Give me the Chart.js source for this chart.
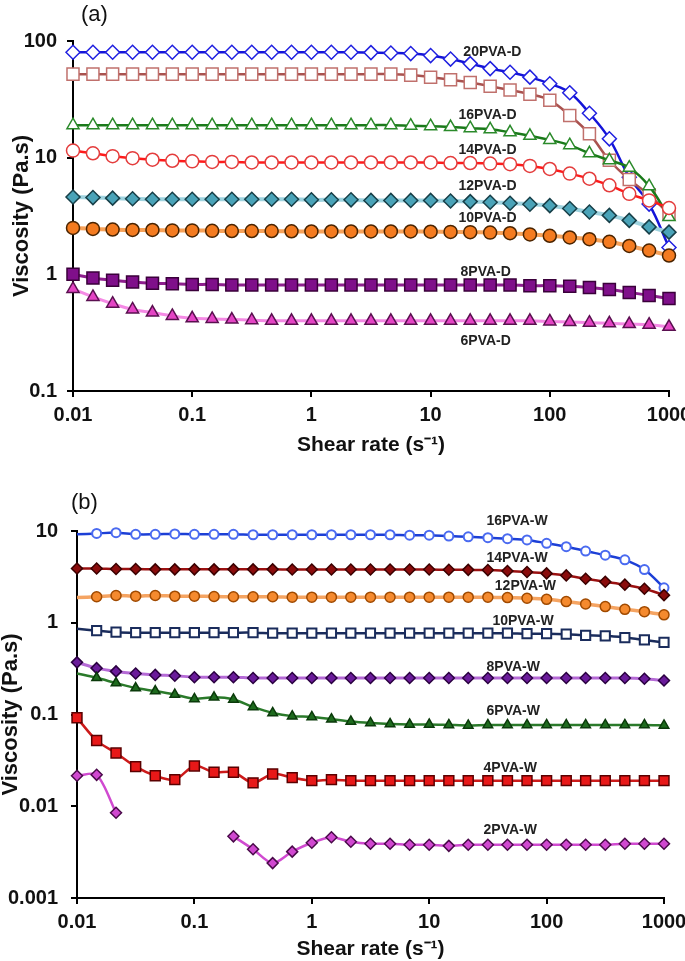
<!DOCTYPE html>
<html>
<head>
<meta charset="utf-8">
<script src="https://cdn.jsdelivr.net/npm/chart.js@4"></script>
<style>
body { margin: 0; background: #fff; }
#wrap { position: relative; width: 685px; height: 961px; font-family: "Liberation Sans", Arial, sans-serif; }
canvas { position: absolute; left: 0; }
.tag { position: absolute; font-size: 22px; color: #111; }
</style>
</head>
<body>
<div id="wrap">
  <canvas id="chartA" width="685" height="465" style="top:0"></canvas>
  <canvas id="chartB" width="685" height="496" style="top:465px"></canvas>
  <div class="tag" style="left:81px;top:1px">(a)</div>
  <div class="tag" style="left:71px;top:489px">(b)</div>
</div>
<script>
// shear rate, 6 points per decade
const shearRate = [0.01, 0.0147, 0.0215, 0.0316, 0.0464, 0.0681, 0.1, 0.147, 0.215, 0.316, 0.464, 0.681,
  1, 1.47, 2.15, 3.16, 4.64, 6.81, 10, 14.7, 21.5, 31.6, 46.4, 68.1, 100, 147, 215, 316, 464, 681, 1000];

const xTicks = [0.01, 0.1, 1, 10, 100, 1000];
const yTicksA = [0.1, 1, 10, 100];
const yTicksB = [0.001, 0.01, 0.1, 1, 10];

// (a) PVA-D
const pva20D = [80, 80, 80, 80, 80, 80, 80, 80, 80, 80, 80, 80, 80, 80, 80, 79.5, 79, 78, 75, 70, 64, 58, 54, 49, 43, 36, 24, 14.5, 6.8, 4, 1.7];
const pva18D = [52, 52, 52, 52, 52, 52, 52, 52, 52, 52, 52, 52, 52, 52, 52, 52, 52, 51, 49, 46.5, 44, 41, 38, 35, 31, 23, 16, 9.5, 6.5, 4.8, 3.3];
const pva16D = [19, 19, 19, 19, 19, 19, 19, 19, 19, 19, 19, 19, 19, 19, 19, 19, 19, 18.8, 18.6, 18.3, 17.9, 17.5, 16.5, 15.4, 14.2, 12.8, 10.9, 9.5, 8.2, 5.7, 3.1];
const pva14D = [11.5, 10.9, 10.3, 9.9, 9.6, 9.4, 9.3, 9.2, 9.2, 9.1, 9.1, 9.1, 9.1, 9.1, 9.1, 9.1, 9.1, 9.1, 9.1, 9.0, 9.0, 8.9, 8.8, 8.5, 8.0, 7.3, 6.6, 5.8, 4.9, 4.3, 3.7];
const pva12D = [4.6, 4.55, 4.5, 4.45, 4.4, 4.4, 4.4, 4.4, 4.4, 4.4, 4.4, 4.4, 4.35, 4.35, 4.35, 4.3, 4.3, 4.3, 4.3, 4.25, 4.2, 4.15, 4.07, 3.99, 3.88, 3.67, 3.42, 3.2, 2.9, 2.55, 2.3];
const pva10D = [2.5, 2.45, 2.42, 2.4, 2.4, 2.38, 2.38, 2.36, 2.35, 2.35, 2.35, 2.34, 2.33, 2.33, 2.33, 2.33, 2.33, 2.33, 2.32, 2.31, 2.3, 2.28, 2.25, 2.2, 2.14, 2.07, 2.0, 1.9, 1.75, 1.6, 1.45];
const pva8D = [1.0, 0.93, 0.89, 0.86, 0.84, 0.83, 0.82, 0.82, 0.81, 0.81, 0.81, 0.81, 0.81, 0.81, 0.81, 0.81, 0.81, 0.81, 0.81, 0.81, 0.81, 0.81, 0.81, 0.8, 0.8, 0.79, 0.77, 0.74, 0.7, 0.66, 0.62];
const pva6D = [0.75, 0.64, 0.56, 0.5, 0.47, 0.44, 0.42, 0.415, 0.41, 0.405, 0.4, 0.4, 0.4, 0.4, 0.4, 0.4, 0.4, 0.4, 0.4, 0.4, 0.4, 0.4, 0.4, 0.4, 0.395, 0.39, 0.385, 0.38, 0.375, 0.37, 0.355];

// (b) PVA-W
const pva16W = [9.2, 9.4, 9.6, 9.2, 9.2, 9.3, 9.2, 9.2, 9.2, 9.1, 9.1, 9.1, 9.1, 9.1, 9.1, 9.1, 9.1, 9.0, 9.0, 8.8, 8.65, 8.45, 8.25, 8.0, 7.35, 6.75, 6.05, 5.45, 4.85, 3.8, 2.4];
const pva14W = [3.9, 3.9, 3.85, 3.85, 3.82, 3.82, 3.82, 3.82, 3.82, 3.82, 3.82, 3.8, 3.8, 3.8, 3.8, 3.8, 3.8, 3.8, 3.8, 3.78, 3.77, 3.75, 3.67, 3.57, 3.45, 3.28, 3.02, 2.8, 2.6, 2.35, 2.0];
const pva12W = [1.88, 1.92, 1.98, 1.95, 1.98, 1.95, 1.95, 1.93, 1.92, 1.92, 1.92, 1.9, 1.9, 1.9, 1.9, 1.9, 1.9, 1.9, 1.9, 1.9, 1.9, 1.9, 1.88, 1.85, 1.8, 1.7, 1.6, 1.5, 1.4, 1.32, 1.22];
const pva10W = [0.86, 0.82, 0.79, 0.78, 0.78, 0.78, 0.78, 0.78, 0.78, 0.78, 0.77, 0.77, 0.77, 0.77, 0.77, 0.77, 0.77, 0.77, 0.77, 0.77, 0.77, 0.77, 0.77, 0.76, 0.76, 0.75, 0.73, 0.72, 0.69, 0.65, 0.61];
const pva8W = [0.37, 0.32, 0.295, 0.28, 0.27, 0.265, 0.255, 0.255, 0.255, 0.25, 0.25, 0.25, 0.25, 0.25, 0.25, 0.25, 0.25, 0.25, 0.25, 0.25, 0.25, 0.25, 0.25, 0.25, 0.25, 0.25, 0.25, 0.25, 0.25, 0.245, 0.235];
const pva6W = [0.28, 0.251, 0.22, 0.194, 0.18, 0.165, 0.148, 0.154, 0.146, 0.121, 0.104, 0.096, 0.094, 0.089, 0.084, 0.081, 0.079, 0.078, 0.078, 0.077, 0.076, 0.077, 0.077, 0.077, 0.077, 0.077, 0.077, 0.077, 0.077, 0.077, 0.076];
const pva4W = [0.092, 0.052, 0.038, 0.027, 0.0215, 0.0195, 0.0275, 0.0235, 0.0235, 0.018, 0.0225, 0.0205, 0.019, 0.0195, 0.019, 0.019, 0.019, 0.019, 0.019, 0.019, 0.019, 0.019, 0.019, 0.019, 0.019, 0.019, 0.019, 0.019, 0.019, 0.019, 0.019];
const pva2W = [0.0215, 0.022, 0.0085, null, null, null, null, null, 0.0047, 0.0034, 0.0024, 0.0032, 0.004, 0.0046, 0.0041, 0.0039, 0.0039, 0.0038, 0.0038, 0.0037, 0.0038, 0.0038, 0.0038, 0.0038, 0.0038, 0.0038, 0.0038, 0.0038, 0.0039, 0.0039, 0.0039];

// curve labels, placed in data coordinates
const labelsA = [
  {text: '20PVA-D', x: 33, y: 80},
  {text: '16PVA-D', x: 30, y: 23},
  {text: '14PVA-D', x: 30, y: 11.5},
  {text: '12PVA-D', x: 30, y: 5.7},
  {text: '10PVA-D', x: 30, y: 3.05},
  {text: '8PVA-D', x: 29, y: 1.05},
  {text: '6PVA-D', x: 29, y: 0.27}
];
const labelsB = [
  {text: '16PVA-W', x: 56, y: 12.8},
  {text: '14PVA-W', x: 56, y: 5.1},
  {text: '12PVA-W', x: 66, y: 2.5},
  {text: '10PVA-W', x: 63, y: 1.04},
  {text: '8PVA-W', x: 52, y: 0.33},
  {text: '6PVA-W', x: 52, y: 0.108},
  {text: '4PVA-W', x: 49, y: 0.026},
  {text: '2PVA-W', x: 49, y: 0.0055}
];

const FONT = '"Liberation Sans", Arial, sans-serif';

const curveLabels = {
  id: 'curveLabels',
  afterDatasetsDraw(chart, args, opts) {
    const ctx = chart.ctx;
    const x = chart.scales.x, y = chart.scales.y;
    ctx.save();
    ctx.font = 'bold 14px ' + FONT;
    ctx.fillStyle = '#222';
    ctx.textAlign = 'center';
    ctx.textBaseline = 'middle';
    opts.items.forEach(l => ctx.fillText(l.text, x.getPixelForValue(l.x), y.getPixelForValue(l.y)));
    ctx.restore();
  }
};

function series(label, values, style) {
  return Object.assign({
    label: label,
    data: shearRate.map((x, i) => ({x: x, y: values[i]})),
    tension: 0.4,
    clip: false,
    spanGaps: false,
    pointBorderWidth: 1.5,
    borderWidth: 2.5
  }, style);
}

// skip the marker of the first point (hidden in the original)
const noFirst = r => (c => c.dataIndex === 0 ? 0 : r);

function makeChart(id, datasets, yMin, yMax, yTicks, labels, box) {
  return new Chart(document.getElementById(id), {
    type: 'line',
    data: {datasets: datasets},
    plugins: [curveLabels],
    options: {
      responsive: false,
      animation: false,
      layout: {padding: {top: box.top, right: box.right, left: 0, bottom: 0}},
      plugins: {
        legend: {display: false},
        tooltip: {enabled: false},
        curveLabels: {items: labels}
      },
      scales: {
        x: {
          type: 'logarithmic',
          min: 0.01, max: 1000,
          afterBuildTicks: s => { s.ticks = xTicks.map(v => ({value: v})); },
          afterFit: s => { s.height = box.xh; s.paddingLeft = 0; s.paddingRight = 0; },
          grid: {drawOnChartArea: false, color: '#000', lineWidth: 2, tickLength: 6},
          border: {color: '#000', width: 2},
          ticks: {color: '#111', padding: 6, maxRotation: 0, autoSkip: false,
            font: {family: FONT, size: 20, weight: 'bold'},
            callback: v => String(v)},
          title: {display: true, text: 'Shear rate (s\u207B\u00B9)', color: '#111',
            font: {family: FONT, size: 21, weight: 'bold', lineHeight: 1},
            padding: {top: 0, bottom: box.titlePad}}
        },
        y: {
          type: 'logarithmic',
          min: yMin, max: yMax,
          afterBuildTicks: s => { s.ticks = yTicks.map(v => ({value: v})); },
          afterFit: s => { s.width = box.left; s.paddingTop = 0; s.paddingBottom = 0; },
          grid: {drawOnChartArea: false, color: '#000', lineWidth: 2, tickLength: 6},
          border: {color: '#000', width: 2},
          ticks: {color: '#111', padding: box.yPad, autoSkip: false,
            font: {family: FONT, size: 20, weight: 'bold'},
            callback: v => String(v)},
          title: {display: true, text: 'Viscosity (Pa.s)', color: '#111',
            font: {family: FONT, size: 22, weight: 'bold', lineHeight: 1},
            padding: {top: box.yTitlePad, bottom: 0}}
        }
      }
    }
  });
}

const dsA = [
  series('6PVA-D', pva6D, {borderColor: '#f58ae5', borderWidth: 3, pointStyle: 'triangle', pointRadius: 7,
    pointBackgroundColor: '#e444c4', pointBorderColor: '#5a1050'}),
  series('8PVA-D', pva8D, {borderColor: '#8e1e8e', borderWidth: 3, pointStyle: 'rect', pointRadius: 8.5,
    pointBackgroundColor: '#7f0f8a', pointBorderColor: '#3a003a'}),
  series('10PVA-D', pva10D, {borderColor: '#f7a25a', borderWidth: 4, pointStyle: 'circle', pointRadius: 6.5,
    pointBackgroundColor: '#f47b20', pointBorderColor: '#4a2400'}),
  series('12PVA-D', pva12D, {borderColor: '#9fd3df', borderWidth: 4, pointStyle: 'rectRot', pointRadius: 7,
    pointBackgroundColor: '#4aa3b8', pointBorderColor: '#173f48'}),
  series('14PVA-D', pva14D, {borderColor: '#ff1a1a', pointStyle: 'circle', pointRadius: 6.5,
    pointBackgroundColor: '#fff', pointBorderColor: '#e43c3c'}),
  series('16PVA-D', pva16D, {borderColor: '#1a7a1a', pointStyle: 'triangle', pointRadius: 7,
    pointBackgroundColor: '#fff', pointBorderColor: '#2a8a2a'}),
  series('18PVA-D', pva18D, {borderColor: '#a9524f', pointStyle: 'rect', pointRadius: 8.5,
    pointBackgroundColor: '#fff', pointBorderColor: '#c0706c'}),
  series('20PVA-D', pva20D, {borderColor: '#1414d8', pointStyle: 'rectRot', pointRadius: 7,
    pointBackgroundColor: '#fff', pointBorderColor: '#2020e0'})
];

const dsB = [
  series('2PVA-W', pva2W, {borderColor: '#d04ad0', tension: 0.3, pointStyle: 'rectRot', pointRadius: 5.5,
    pointBackgroundColor: '#d048d0', pointBorderColor: '#4a0a4a'}),
  series('4PVA-W', pva4W, {borderColor: '#cc1a1a', tension: 0.3, pointStyle: 'rect', pointRadius: 7,
    pointBackgroundColor: '#e81818', pointBorderColor: '#5a0000'}),
  series('6PVA-W', pva6W, {borderColor: '#2a7a2a', tension: 0.3, pointStyle: 'triangle', pointRadius: noFirst(5.5),
    pointBackgroundColor: '#1e6b1e', pointBorderColor: '#0a3a0a'}),
  series('8PVA-W', pva8W, {borderColor: '#b56ad6', borderWidth: 3, tension: 0.3, pointStyle: 'rectRot', pointRadius: 5.5,
    pointBackgroundColor: '#6a1b9a', pointBorderColor: '#2a0040'}),
  series('10PVA-W', pva10W, {borderColor: '#1a2c5c', tension: 0.3, pointStyle: 'rect', pointRadius: noFirst(6.5),
    pointBackgroundColor: '#fff', pointBorderColor: '#1a2c5c', pointBorderWidth: 2}),
  series('12PVA-W', pva12W, {borderColor: '#f5a462', borderWidth: 3.5, tension: 0.3, pointStyle: 'circle', pointRadius: noFirst(5),
    pointBackgroundColor: '#f58a2e', pointBorderColor: '#a04a00'}),
  series('14PVA-W', pva14W, {borderColor: '#9a1010', tension: 0.3, pointStyle: 'rectRot', pointRadius: 5.5,
    pointBackgroundColor: '#8a0c0c', pointBorderColor: '#3a0000'}),
  series('16PVA-W', pva16W, {borderColor: '#1c3fd6', tension: 0.3, pointStyle: 'circle', pointRadius: noFirst(4.5),
    pointBackgroundColor: '#fff', pointBorderColor: '#4a6af0', pointBorderWidth: 2})
];

makeChart('chartA', dsA, 0.1, 100, yTicksA, labelsA,
  {top: 41, right: 16, left: 73, xh: 74, titlePad: 9, yPad: 10, yTitlePad: 11});
makeChart('chartB', dsB, 0.001, 10, yTicksB, labelsB,
  {top: 66, right: 21, left: 77, xh: 63, titlePad: 1, yPad: 13, yTitlePad: 0});
</script>
</body>
</html>
